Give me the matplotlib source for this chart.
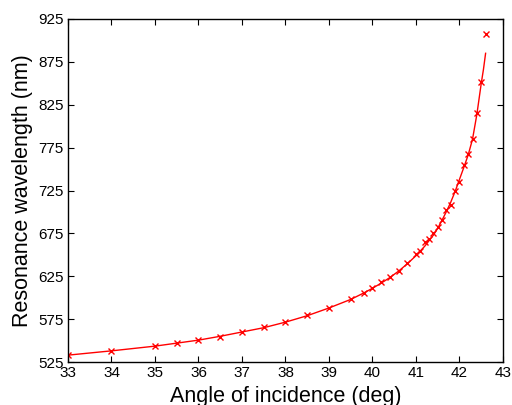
import matplotlib
matplotlib.use("Agg")
import matplotlib.pyplot as plt

plt.rcParams['font.family'] = ['Liberation Sans', 'DejaVu Sans']

# Measured resonance points (markers)
angle = [33, 34, 35, 35.5, 36, 36.5, 37, 37.5, 38, 38.5, 39, 39.5, 39.8, 40,
         40.2, 40.4, 40.6, 40.8, 41, 41.1, 41.2, 41.3, 41.4, 41.5, 41.6, 41.7,
         41.8, 41.9, 42, 42.1, 42.2, 42.3, 42.4, 42.5, 42.6]
wavelength = [533, 538, 544, 547, 550.5, 554.5, 560, 565.5, 571.5, 579.5, 587.5,
              598, 606, 611, 618, 624.5, 631, 640.5, 651, 654, 665, 669, 676,
              682, 691, 702.5, 708.5, 724.5, 735, 755, 767.5, 785, 815, 852, 907.5]

# Fitted curve
fit_angle = [33, 34, 35, 35.5, 36, 36.5, 37, 37.5, 38, 38.5, 39, 39.5, 39.8, 40,
             40.2, 40.4, 40.6, 40.8, 41, 41.2, 41.4, 41.5, 41.6, 41.7, 41.8,
             41.9, 42, 42.1, 42.2, 42.3, 42.4, 42.5, 42.55, 42.6]
fit_wavelength = [533, 538, 543.5, 547, 550.5, 555, 560, 565, 571.5, 579, 588,
                  598, 605.5, 611, 617, 623.5, 631, 639.5, 649, 660, 673, 681,
                  690.5, 700.5, 711.5, 724, 738, 752, 766.5, 785, 814, 850,
                  866, 885]

fig = plt.figure(figsize=(5.12, 4.05), dpi=100)
ax = fig.add_axes([68/512, 43/405, 435/512, 343/405])

ax.plot(fit_angle, fit_wavelength, color='red', lw=1.0)
ax.plot(angle, wavelength, 'x', color='red', ms=5, mew=1.0)

ax.set_xlim(33, 43)
ax.set_ylim(525, 925)
ax.set_xticks(range(33, 44))
ax.set_yticks(range(525, 926, 50))
ax.tick_params(direction='in', top=True, right=True, length=4, width=0.8,
               labelsize=11, pad=3)
for s in ax.spines.values():
    s.set_linewidth(1.0)

ax.set_xlabel('Angle of incidence (deg)', fontsize=15.5, labelpad=4.5)
ax.set_ylabel('Resonance wavelength (nm)', fontsize=15.5, labelpad=4)

fig.savefig('out.png', dpi=100)
